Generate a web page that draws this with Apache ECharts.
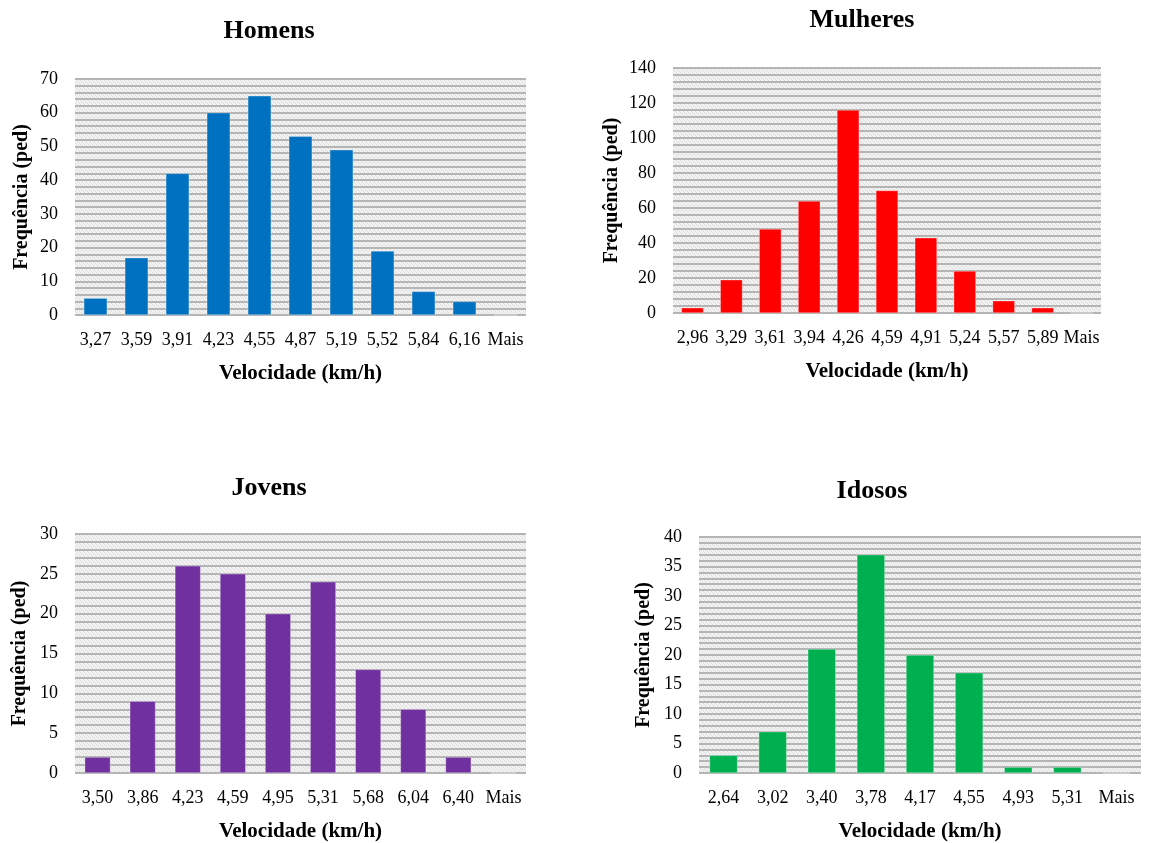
<!DOCTYPE html>
<html><head><meta charset="utf-8">
<script src="https://cdn.jsdelivr.net/npm/echarts@6/dist/echarts.min.js"></script>
<style>html,body{margin:0;padding:0;background:#fff}#c{width:1153px;height:843px}</style>
</head><body><div id="c"></div>
<script>
const homensCats = ['3,27','3,59','3,91','4,23','4,55','4,87','5,19','5,52','5,84','6,16','Mais'];
const homensVals = [5,17,42,60,65,53,49,19,7,4,0];
const mulheresCats = ['2,96','3,29','3,61','3,94','4,26','4,59','4,91','5,24','5,57','5,89','Mais'];
const mulheresVals = [3,19,48,64,116,70,43,24,7,3,0];
const jovensCats = ['3,50','3,86','4,23','4,59','4,95','5,31','5,68','6,04','6,40','Mais'];
const jovensVals = [2,9,26,25,20,24,13,8,2,0];
const idososCats = ['2,64','3,02','3,40','3,78','4,17','4,55','4,93','5,31','Mais'];
const idososVals = [3,7,21,37,20,17,1,1,0];

const titles = ['Homens','Mulheres','Jovens','Idosos'];
const yMax = [70,140,30,40];
const yInt = [10,20,5,5];
const colors = ['#0070C0','#FF0000','#7030A0','#00B050'];
const cats = [homensCats, mulheresCats, jovensCats, idososCats];
const vals = [homensVals, mulheresVals, jovensVals, idososVals];

const FONT = 'Liberation Serif';
const grids = [
  {left:75, top:79, width:451, height:236},
  {left:673, top:68, width:428, height:245},
  {left:75, top:534, width:451, height:239},
  {left:699, top:537, width:442, height:236}
];
const titlePos = [{x:264,y:13},{x:857,y:2},{x:264,y:470},{x:867,y:473}];
const yNameGap = [43,51,45,45];

// dotted texture pattern
const pc = document.createElement('canvas');
pc.width = 4; pc.height = 4;
const pctx = pc.getContext('2d');
pctx.fillStyle = '#f2f2f2'; pctx.fillRect(0,0,4,4);
pctx.fillStyle = '#dcdcdc';
pctx.fillRect(0,0,1,1); pctx.fillRect(2,1,1,1); pctx.fillRect(1,2,1,1); pctx.fillRect(3,3,1,1);

const option = {
  backgroundColor:'#ffffff',
  animation:false,
  title: titles.map((t,i)=>({
    text:t, left:titlePos[i].x, top:titlePos[i].y, textAlign:'center',
    textStyle:{fontFamily:FONT, fontWeight:'bold', fontSize:26, color:'#000'}
  })),
  grid: grids.map(g=>Object.assign({show:true, backgroundColor:{image:pc, repeat:'repeat'}, borderWidth:0}, g)),
  xAxis: cats.map((c,i)=>({
    type:'category', gridIndex:i, data:c,
    axisLine:{show:false}, axisTick:{show:false},
    axisLabel:{fontFamily:FONT, fontSize:18, color:'#000', margin:16, interval:0},
    name:'Velocidade (km/h)', nameLocation:'middle', nameGap:48,
    nameTextStyle:{fontFamily:FONT, fontWeight:'bold', fontSize:21, color:'#000'}
  })),
  yAxis: yMax.map((m,i)=>({
    type:'value', gridIndex:i, min:0, max:m, interval:yInt[i],
    axisLine:{show:false}, axisTick:{show:false},
    axisLabel:{fontFamily:FONT, fontSize:18, color:'#000', margin:17},
    splitLine:{show:true, lineStyle:{color:'#b5b5b5', width:2}},
    minorTick:{show:false, splitNumber:5},
    minorSplitLine:{show:true, lineStyle:{color:'#b5b5b5', width:2}},
    name:'Frequência (ped)', nameLocation:'middle', nameGap:yNameGap[i], nameRotate:90,
    nameTextStyle:{fontFamily:FONT, fontWeight:'bold', fontSize:20, color:'#000'}
  })),
  series: vals.map((v,i)=>({
    type:'bar', xAxisIndex:i, yAxisIndex:i, data:v,
    barCategoryGap:'43%',
    itemStyle:{color:colors[i], borderColor:'rgba(255,255,255,0.6)', borderWidth:0.5}
  }))
};
const chart = echarts.init(document.getElementById('c'), null, {renderer:'canvas'});
chart.setOption(option);
</script></body></html>
